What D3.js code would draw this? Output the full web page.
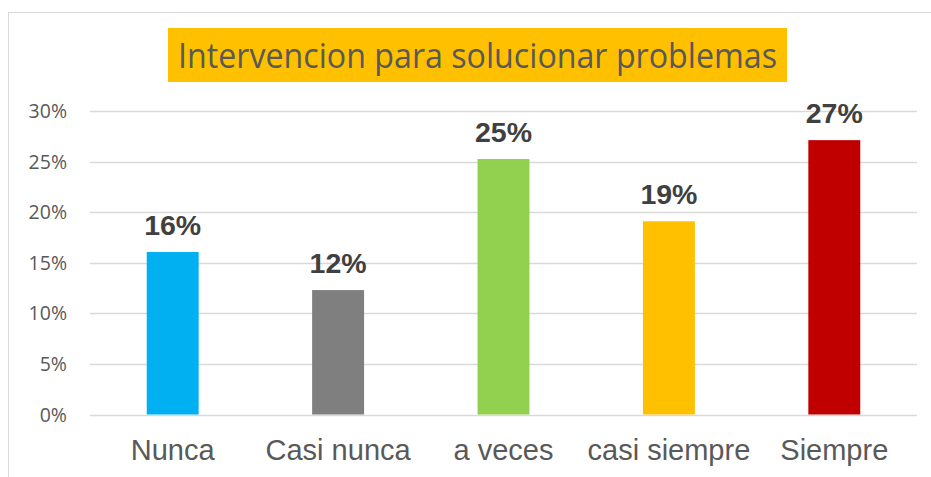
<!DOCTYPE html>
<html>
<head>
<meta charset="utf-8">
<script src="https://cdn.jsdelivr.net/npm/d3@7"></script>
<style>
  body { margin: 0; background: #fff; }
  svg { display: block; }
</style>
</head>
<body>
<svg id="chart"></svg>
<script>
const categories = ["Nunca", "Casi nunca", "a veces", "casi siempre", "Siempre"];
const values = [0.1606, 0.123, 0.2525, 0.191, 0.2712];
const labels = ["16%", "12%", "25%", "19%", "27%"];
const colors = ["#00B0F0", "#7F7F7F", "#92D050", "#FFC000", "#C00000"];
const yTicks = [0, 0.05, 0.10, 0.15, 0.20, 0.25, 0.30];
const title = "Intervencion para solucionar problemas";

const width = 931, height = 477;
const svg = d3.select("#chart").attr("width", width).attr("height", height);

// outer chart frame
svg.append("rect")
    .attr("x", 8.5).attr("y", 12.5)
    .attr("width", 1000).attr("height", 1000)
    .attr("fill", "none")
    .attr("stroke", "#d9d9d9");

const x = d3.scaleBand()
    .domain(categories)
    .range([90, 917])
    .paddingInner(0.686)
    .paddingOuter(0.343);

const y = d3.scaleLinear()
    .domain([0, 0.30])
    .range([414.5, 111]);

// gridlines
svg.append("g")
    .selectAll("line")
    .data(yTicks)
    .join("line")
    .attr("x1", 90).attr("x2", 917)
    .attr("y1", d => Math.round(y(d)) + 0.5)
    .attr("y2", d => Math.round(y(d)) + 0.5)
    .attr("stroke", "#d9d9d9")
    .attr("stroke-width", 1.3);

// y tick labels
svg.append("g")
    .selectAll("text")
    .data(yTicks)
    .join("text")
    .attr("x", 67)
    .attr("y", d => y(d) + 7)
    .attr("text-anchor", "end")
    .style("font-family", "'Open Sans', sans-serif")
    .style("font-size", "19.5px")
    .attr("fill", "#595959")
    .text(d => d3.format(".0%")(d));

// bars
svg.append("g")
    .selectAll("rect")
    .data(categories)
    .join("rect")
    .attr("x", d => x(d))
    .attr("width", x.bandwidth())
    .attr("y", (d, i) => y(values[i]))
    .attr("height", (d, i) => y(0) - y(values[i]))
    .attr("fill", (d, i) => colors[i]);

// data labels
svg.append("g")
    .selectAll("text")
    .data(categories)
    .join("text")
    .attr("x", d => x(d) + x.bandwidth() / 2)
    .attr("y", (d, i) => y(values[i]) - 17)
    .attr("text-anchor", "middle")
    .style("font-family", "'Liberation Sans', Arial, sans-serif")
    .style("font-weight", "bold")
    .style("font-size", "28.5px")
    .attr("fill", "#404040")
    .text((d, i) => labels[i]);

// category labels
svg.append("g")
    .selectAll("text")
    .data(categories)
    .join("text")
    .attr("x", d => x(d) + x.bandwidth() / 2)
    .attr("y", 460)
    .attr("text-anchor", "middle")
    .style("font-family", "'Liberation Sans', Arial, sans-serif")
    .style("font-size", "29px")
    .attr("fill", "#595959")
    .text(d => d);

// title box
svg.append("rect")
    .attr("x", 168).attr("y", 28)
    .attr("width", 619).attr("height", 54)
    .attr("fill", "#FFC000");

svg.append("text")
    .attr("x", 178)
    .attr("y", 68)
    .attr("textLength", 599)
    .attr("lengthAdjust", "spacingAndGlyphs")
    .style("font-family", "'Open Sans', sans-serif")
    .style("font-size", "34px")
    .attr("fill", "#595959")
    .text(title);
</script>
</body>
</html>
